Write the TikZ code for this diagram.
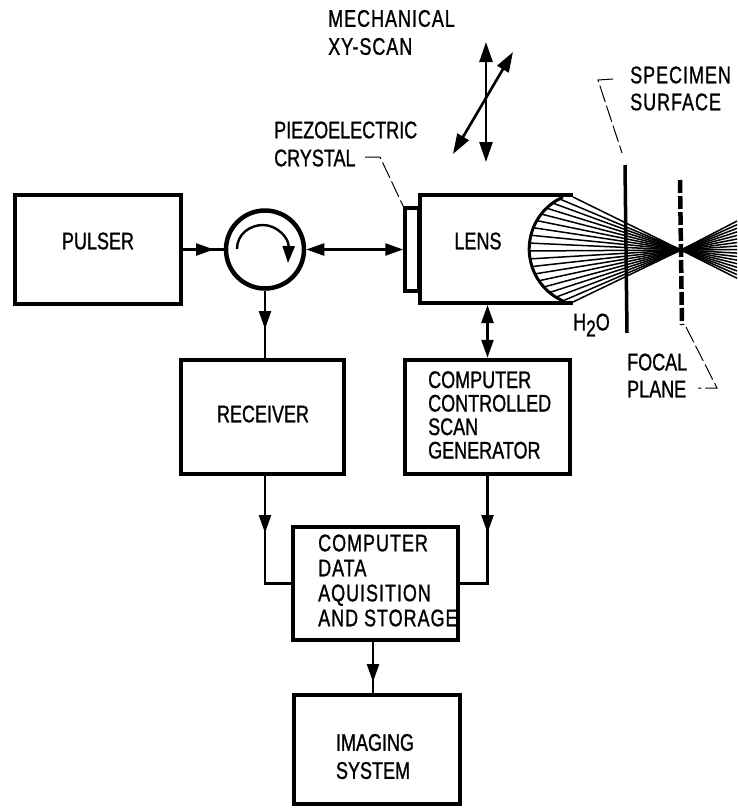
\documentclass[tikz,border=0pt]{standalone}
\usepackage{fontspec}
\setmainfont[FakeStretch=0.75,FakeBold=1]{Liberation Sans}
\usetikzlibrary{arrows.meta}

\tikzset{
  blockbox/.style={draw, line width=4.5pt, minimum width=#1, inner sep=0pt},
  blocktext/.style={inner sep=0pt, align=left, font=\fontsize{24}{25}\selectfont},
  widetext/.style={blocktext, font=\fontsize{24}{25}\selectfont\addfontfeature{LetterSpace=4}},
  sigline/.style={line width=2.4pt},
  sigarrow/.style={line width=2.4pt, -{Triangle[length=18pt,width=12pt]}},
  sigdouble/.style={line width=2.4pt, {Triangle[length=18pt,width=12pt]}-{Triangle[length=18pt,width=12pt]}},
  scanarrow/.style={line width=2.6pt, {Triangle[length=20pt,width=13pt]}-{Triangle[length=20pt,width=13pt]}},
  leader/.style={line width=1pt, dash pattern=on 17pt off 4pt},
  ray/.style={line width=1.5pt}
}

\begin{document}
\begin{tikzpicture}[x=1pt, y=-1pt]
    \useasboundingbox (0,0) rectangle (737,809);
    % Blocks
    \node[blockbox=166pt, minimum height=109pt] (pulser) at (98,249.5) {};
    \node[blockbox=163pt, minimum height=114pt] (receiver) at (262.5,417) {};
    \node[blockbox=165pt, minimum height=114pt] (scangen) at (487.5,417) {};
    \node[blockbox=165pt, minimum height=113pt] (data) at (375.5,583.5) {};
    \node[blockbox=166pt, minimum height=109pt] (imaging) at (377,749.5) {};
    \node[draw, circle, line width=4.5pt, minimum size=78pt, inner sep=0pt] (circ) at (265,249.5) {};
    \node[draw, line width=3.5pt, minimum width=14pt, minimum height=83pt, inner sep=0pt] (crystal) at (412,249.5) {};
    % Block labels
    \node[blocktext] (pulsertext) at (98,241) {PULSER};
    \node[blocktext] (receivertext) at (263,414) {RECEIVER};
    \node[blocktext] (lenstext) at (478,241) {LENS};
    \node[blocktext, anchor=west] (scantext) at (428,415) {COMPUTER\\[-1.5pt]CONTROLLED\\[-1.5pt]SCAN\\[-1.5pt]GENERATOR};
    \node[widetext, anchor=west] (datatext) at (318,580.5) {COMPUTER\\DATA\\AQUISITION\\AND STORAGE};
    \node[blocktext] (imagingtext) at (375,756.5) {IMAGING\\[3pt]SYSTEM};
    % Outside labels
    \node[widetext, anchor=west] (mechtext) at (328,32.5) {MECHANICAL\\[3pt]XY-SCAN};
    \node[blocktext, anchor=west] (piezotext) at (274,144) {PIEZOELECTRIC\\[3pt]CRYSTAL};
    \node[widetext, anchor=west] (spectext) at (630,88.5) {SPECIMEN\\[2pt]SURFACE};
    \node[blocktext, anchor=west] (focaltext) at (627,375.5) {FOCAL\\[2pt]PLANE};
    \node[widetext, anchor=west] (watertext) at (573,325) {H\raisebox{-6pt}{\fontsize{23}{23}\selectfont 2}O};
    % Lens body
    \draw[line width=4.5pt] (573,195) -- (420,195) -- (420,303) -- (573,303);
    \coordinate (lensbase) at (scangen.north |- 0,305);
    % Lens surface and rays
    \draw[line width=3pt] plot[domain=114:246, smooth, samples=25] ({586+56.8*cos(\x)},{249+56.8*sin(\x)});
    \coordinate (focus) at (681,250);
    \foreach \t in {114,122,...,246} {
        \pgfmathsetmacro\px{586+56.8*cos(\t)}
        \pgfmathsetmacro\py{249+56.8*sin(\t)}
        \pgfmathsetmacro\ey{250+1.2*(250-\py)*56/(681-\px)}
        \draw[ray] (\px,\py) -- (focus) -- (737,\ey);
    }
    \draw[ray] (573,197) -- (focus);
    \draw[ray] (573,302) -- (focus);
    % Specimen surface and focal plane
    \draw[line width=3.5pt] (625,165) -- (627,333);
    \draw[line width=4.5pt, dash pattern=on 13pt off 3pt] (680,180) -- (682,325);
    % Signal path
    \coordinate (pulsertip) at (214,249.5);
    \draw[sigline] (pulser.east) -- (circ.west);
    \draw[sigarrow] (pulser.east) -- (pulsertip);
    \draw[sigdouble] (circ.east) -- (crystal.west);
    \coordinate (circtip) at (265,329);
    \draw[sigline] (circ.south) -- (circ.south |- receiver.north);
    \draw[sigarrow] (circ.south) -- (circtip);
    \draw[sigdouble] (lensbase) -- (scangen.north);
    % Into the data block
    \coordinate (receivertip) at (265,533);
    \draw[sigline] (circ.south |- receiver.south) -- (receivertip |- data.west) -- (data.west);
    \draw[sigarrow] (circ.south |- receiver.south) -- (receivertip);
    \coordinate (scantip) at (scangen.south |- receivertip);
    \draw[sigline] (scangen.south) -- (scantip |- data.east) -- (data.east);
    \draw[sigarrow] (scangen.south) -- (scantip);
    \coordinate (imagingtip) at (373,682);
    \draw[sigline] (imagingtip |- data.south) -- (imagingtip |- imaging.north);
    \draw[sigarrow] (imagingtip |- data.south) -- (imagingtip);
    % Circulator arrow
    \draw[line width=2.4pt, -{Triangle[length=17pt,width=12pt]}] (237,249) .. controls (237,234) and (250,225) .. (263,225) .. controls (277,225) and (289,238) .. (288,263);
    % Scan directions
    \coordinate (scantop) at (486,42);
    \coordinate (scanbottom) at (486,162);
    \coordinate (scanfar) at (513,52);
    \coordinate (scannear) at (453,154);
    \draw[scanarrow] (scanbottom) -- (scantop);
    \draw[scanarrow] (scannear) -- (scanfar);
    % Leaders
    \coordinate (piezoend) at (365,157);
    \draw[leader] (piezoend) -- (380,157) -- (crystal.north west);
    \draw[leader] (613,79) -- (598,80) -- (622,153);
    \draw[leader] (686,327) -- (717,388) -- (698,388);
\end{tikzpicture}
\end{document}
